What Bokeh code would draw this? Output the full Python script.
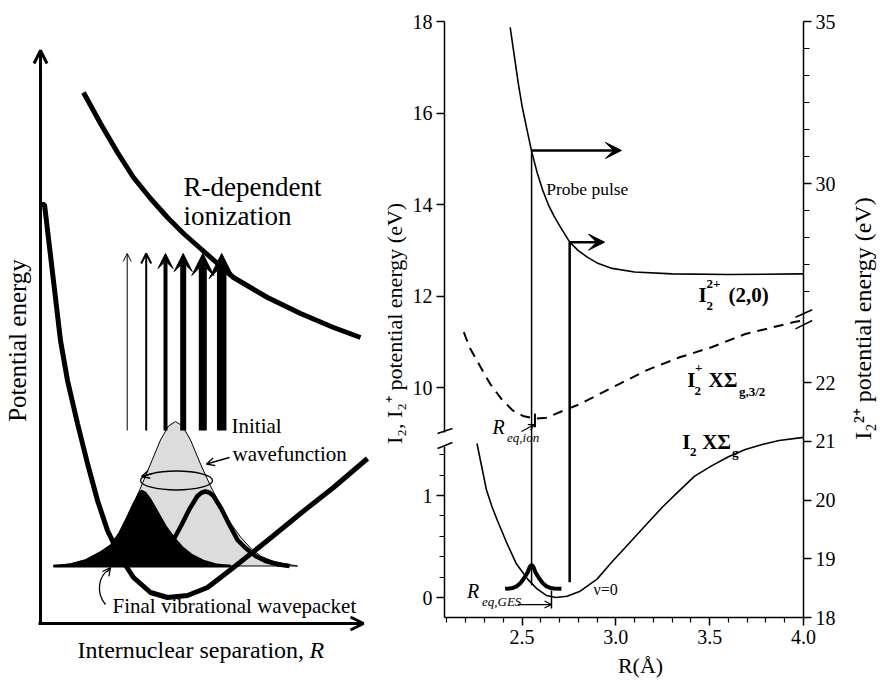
import math
from bokeh.plotting import figure
from bokeh.layouts import row
from bokeh.models import (Range1d, LinearAxis, FixedTicker, PrintfTickFormatter,
                          Arrow, OpenHead, VeeHead)
from bokeh.embed import file_html
from bokeh.resources import INLINE
from bokeh.core.properties import value

FONT = "Liberation Serif"

# ====================== RIGHT PANEL DATA ======================
# I2 X-state (ground) potential: R (Å), energy (eV, left axis)
gs_R = [2.26, 2.29, 2.31, 2.34, 2.37, 2.42, 2.47, 2.53, 2.58, 2.63, 2.68, 2.74, 2.81, 2.90,
        2.98, 3.07, 3.16, 3.25, 3.34, 3.42, 3.51, 3.60, 3.69, 3.78, 3.87, 4.00]
gs_E = [1.51, 1.24, 1.06, 0.89, 0.75, 0.53, 0.33, 0.18, 0.085, 0.02, 0.0, 0.013, 0.062, 0.18,
        0.35, 0.53, 0.71, 0.89, 1.05, 1.19, 1.29, 1.38, 1.45, 1.50, 1.54, 1.57]

# I2+ X 2Σg,3/2 potential (dashed): energy on left axis (eV)
ion_R = [2.19, 2.22, 2.28, 2.33, 2.39, 2.45, 2.51, 2.57, 2.63, 2.70, 2.81, 2.90,
         3.02, 3.16, 3.34, 3.51, 3.69, 3.95, 3.99]
ion_E = [11.21, 10.88, 10.44, 10.08, 9.75, 9.50, 9.37, 9.32, 9.34, 9.46, 9.64, 9.83,
         10.08, 10.37, 10.66, 10.88, 11.17, 11.43, 11.46]

# I2 2+ (2,0) potential: energy on right axis (eV)
dic_R = [2.437, 2.46, 2.48, 2.50, 2.525, 2.551, 2.58, 2.61, 2.64, 2.67, 2.70, 2.754,
         2.80, 2.85, 2.90, 2.98, 3.10, 3.30, 3.60, 4.00]
dic_E = [34.82, 33.9, 33.1, 32.4, 31.7, 31.0, 30.35, 29.8, 29.35, 29.0, 28.7, 28.19,
         27.93, 27.72, 27.55, 27.38, 27.27, 27.21, 27.19, 27.21]

# ground-state vibrational wavepacket (v=0)
wp_R = [2.41, 2.431, 2.451, 2.471, 2.491, 2.511, 2.531, 2.541, 2.551, 2.561, 2.571,
        2.591, 2.611, 2.631, 2.651, 2.671, 2.71]
wp_E = [0.085, 0.088, 0.094, 0.109, 0.140, 0.189, 0.249, 0.301, 0.320, 0.301, 0.249,
        0.189, 0.140, 0.109, 0.094, 0.088, 0.085]

# probe transitions
probe_R = [2.551, 2.754]
probe_E_lo = [0.12, 0.15]        # left axis
probe_E2_hi = [31.02, 28.19]     # right axis
probe_R_end = [3.03, 2.94]

# equilibrium distances
req_ion, req_ion_E = 2.569, [9.13, 9.43]
req_ges, req_ges_E = 2.657, [-0.108, 0.069]
req_ges_arrow_R, req_ges_arrow_E = 2.477, -0.069

# ticks
x_major = [2.5, 3.0, 3.5, 4.0]
x_minor = [2.1, 2.2, 2.3, 2.4, 2.6, 2.7, 2.8, 2.9, 3.1, 3.2, 3.3, 3.4, 3.6, 3.7, 3.8, 3.9]
left_major = [0, 1, 10, 12, 14, 16, 18]
left_minor = [0.2, 0.4, 0.6, 0.8, 1.2, 1.4]
right_major = [18, 19, 20, 21, 22, 30, 35]
right_minor = [34.167, 33.333, 32.5, 31.667, 30.833, 29.167, 28.333, 27.5, 26.667]

# ====================== LEFT PANEL (schematic) DATA ======================
# values in schematic units (x to the right, y measured downward from the top)
ionpot_x = [83, 100, 117, 133, 150, 167, 183, 200, 217, 233, 267, 300, 333, 360]
ionpot_y = [92, 123, 152, 177, 198, 217, 233, 248, 263, 277, 297, 313, 327, 337]
well_x = [41, 44, 52, 60, 67, 77, 87, 97, 107, 120, 133, 150, 167, 187, 207, 233,
          267, 300, 333, 367]
well_y = [204, 204, 272, 340, 380, 423, 463, 500, 530, 557, 577, 592, 597, 595, 587,
          567, 540, 513, 487, 458]
base_y = 565.5
init_x = [53, 70, 85, 100, 110, 120, 130, 140, 150, 160, 168, 175, 182, 190, 200, 210,
          220, 230, 240, 250, 260, 272, 285, 297]
init_h = [0, 2, 6, 14, 21, 35, 55, 78, 102, 126, 140, 144.5, 140, 126, 102, 80, 60,
          43, 29, 18, 10, 5, 2, 0]
fin_x = [53, 70, 85, 100, 110, 118, 126, 133, 138, 141, 145, 150, 158, 166, 174, 182,
         192, 203, 215, 230]
fin_h = [0, 2, 6, 14, 21, 32, 48, 63, 72, 75.5, 73.5, 67, 53, 39, 28, 19, 11, 5.5, 2, 0]
bump_x = [174, 181, 189, 197, 201, 205, 209, 213, 221, 229, 237, 245, 255, 265, 278, 289]
bump_h = [28, 41, 57, 70, 73.3, 74.5, 73.3, 70, 57, 41, 26, 18, 10, 5, 1.5, 0]
ion_arrow_x = [126.7, 145.7, 165.0, 182.7, 202.3, 221.2]
ion_arrow_w = [1.0, 2.0, 4.0, 6.0, 8.0, 9.5]
ion_arrow_head = [8, 10, 15, 18, 22, 25]

H = 680
BASE_SHIFT = 0.33    # em correction for the rendered alphabetic baseline
MID_SHIFT = 0.12     # em correction for rotated, middle-aligned titles


def up(vals):
    return [H - v for v in vals]


def no_align(f):
    try:
        f.frame_align = False
    except Exception:
        pass


# ====================== LEFT FIGURE ======================
L = figure(width=380, height=680, x_range=Range1d(0, 380), y_range=Range1d(0, H),
           x_axis_type=None, y_axis_type=None, output_backend="svg",
           toolbar_location=None, min_border=0)
L.outline_line_color = None
no_align(L)


def ltext(x, y, s, size, style="normal"):
    L.text(x=[x], y=[H - (y - BASE_SHIFT * size)], text=[s], text_font=value(FONT),
           text_font_size=f"{size}px", text_font_style=style, text_align="left",
           text_baseline="alphabetic", text_color="black")


# initial wavefunction (grey)
L.patch(init_x, up([base_y - h for h in init_h]), fill_color="#dcdcdc",
        line_color="black", line_width=1)
# final wavepacket (black hump + outlined hump)
L.patch(fin_x, up([base_y - h for h in fin_h]), fill_color="black", line_color="black",
        line_width=1.5)
L.line(bump_x, up([base_y - h for h in bump_h]), line_color="black", line_width=4.5)
L.line([fin_x[0], fin_x[-1]], up([base_y, base_y]), line_color="black", line_width=3)
# oscillation loop
L.ellipse(x=[176], y=[H - 480], width=[72], height=[19], fill_color=None,
          line_color="black", line_width=1.3)
L.add_layout(Arrow(end=OpenHead(size=8, line_width=1.3), x_start=152, y_start=H - 473,
                   x_end=141, y_end=H - 476, line_width=1.3))
# potential curves
L.line(well_x, up(well_y), line_color="black", line_width=5)
L.line(ionpot_x, up(ionpot_y), line_color="black", line_width=5)
# ionization arrows
for x, w, hs in zip(ion_arrow_x, ion_arrow_w, ion_arrow_head):
    if w < 3:
        head = OpenHead(size=hs, line_width=w, line_color="black")
    else:
        head = VeeHead(size=hs, fill_color="black", line_color="black")
    L.add_layout(Arrow(end=head, x_start=x, y_start=H - 430, x_end=x, y_end=H - 253,
                       line_width=w, line_color="black"))
# axes arrows
L.add_layout(Arrow(end=OpenHead(size=13, line_width=3), x_start=40, y_start=H - 624,
                   x_end=40, y_end=H - 50, line_width=3))
L.add_layout(Arrow(end=OpenHead(size=13, line_width=3), x_start=38, y_start=H - 623,
                   x_end=363, y_end=H - 623, line_width=3))
# small pointer arrows
L.add_layout(Arrow(end=OpenHead(size=8, line_width=1.3), x_start=229, y_start=H - 457,
                   x_end=206, y_end=H - 463.5, line_width=1.3))
L.bezier(x0=[105], y0=[H - 604], x1=[109], y1=[H - 569], cx0=[95], cy0=[H - 592],
         cx1=[98], cy1=[H - 575], line_color="black", line_width=1.3)
L.add_layout(Arrow(end=OpenHead(size=8, line_width=1.3), x_start=107, y_start=H - 571,
                   x_end=110, y_end=H - 567, line_width=1.3))
# texts
ltext(183, 195, "R-dependent", 27)
ltext(183, 224, "ionization", 27)
ltext(231, 432, "Initial", 21)
ltext(232, 460, "wavefunction", 21)
ltext(112, 612, "Final vibrational wavepacket", 21)
ltext(77, 657, "Internuclear separation,", 24)
ltext(309, 657, "R", 24, "italic")
L.text(x=[20 - MID_SHIFT * 25], y=[H - 340], text=["Potential energy"],
       text_font=value(FONT), text_font_size="25px", text_align="center",
       text_baseline="middle", angle=math.pi / 2, text_color="black")

# ====================== RIGHT FIGURE ======================
X0, X1 = 2.087, 4.0          # R range of the axes (Å)
FRAME_L, FRAME_R, FRAME_T, FRAME_B = 444, 803, 21, 617   # axes box on the page
PAGE_X0 = 380                # right panel's left edge on the page


def rx(sx):
    return X0 + (sx - FRAME_L) * (X1 - X0) / (FRAME_R - FRAME_L)


def ry(sy):
    return FRAME_B - sy


def yl(E):
    """broken left axis (eV) -> panel units"""
    return 20 + 102 * E if E < 5 else 230 + 45.75 * (E - 10)


def yr(E2):
    """broken right axis (eV) -> panel units"""
    return 596 - 32.4 * (35 - E2) if E2 > 24.5 else 58.75 * (E2 - 18)


p = figure(width=502, height=680, x_range=Range1d(rx(PAGE_X0), rx(PAGE_X0 + 502)),
           y_range=Range1d(ry(H), ry(0)),
           x_axis_type=None, y_axis_type=None, output_backend="svg",
           toolbar_location=None, min_border=0)
p.outline_line_color = None
no_align(p)

TOPY = ry(FRAME_T)


def style_axis(ax, minor_len=5):
    ax.axis_line_color = "black"
    ax.axis_line_width = 1.5
    ax.major_tick_line_color = "black"
    ax.major_tick_line_width = 1.5
    ax.minor_tick_line_color = "black"
    ax.minor_tick_line_width = 1.2
    ax.major_tick_in = 0
    ax.major_tick_out = 8
    ax.minor_tick_in = 0
    ax.minor_tick_out = minor_len
    ax.major_label_text_font = FONT
    ax.major_label_text_font_size = "20px"
    ax.major_label_text_color = "black"
    ax.major_label_standoff = 4


xaxis = LinearAxis(ticker=FixedTicker(ticks=x_major, minor_ticks=x_minor),
                   formatter=PrintfTickFormatter(format="%.1f"),
                   fixed_location=0, bounds=(X0, X1))
style_axis(xaxis)
p.add_layout(xaxis, "below")

lt = [yl(v) for v in left_major]
laxis = LinearAxis(ticker=FixedTicker(ticks=lt, minor_ticks=[yl(v) for v in left_minor]),
                   major_label_overrides={t: str(v) for t, v in zip(lt, left_major)},
                   fixed_location=X0, bounds=(0, TOPY))
style_axis(laxis)
p.add_layout(laxis, "left")

rt = [yr(v) for v in right_major]
raxis = LinearAxis(ticker=FixedTicker(ticks=rt, minor_ticks=[yr(v) for v in right_minor]),
                   major_label_overrides={t: str(v) for t, v in zip(rt, right_major)},
                   fixed_location=X1, bounds=(0, TOPY))
style_axis(raxis, minor_len=6)
p.add_layout(raxis, "right")

# curves
p.line(gs_R, [yl(e) for e in gs_E], line_color="black", line_width=1.6)
p.line(ion_R, [yl(e) for e in ion_E], line_color="black", line_width=2, line_dash="10 7")
p.line(dic_R, [yr(e) for e in dic_E], line_color="black", line_width=1.6)
p.segment(x0=probe_R, y0=[yl(e) for e in probe_E_lo], x1=probe_R,
          y1=[yr(e) for e in probe_E2_hi], line_color="black", line_width=[1.5, 2.5])
for r0, e2, r1 in zip(probe_R, probe_E2_hi, probe_R_end):
    p.add_layout(Arrow(end=VeeHead(size=16, fill_color="black", line_color="black"),
                       x_start=r0, y_start=yr(e2), x_end=r1, y_end=yr(e2),
                       line_width=2.5, line_color="black"))
p.line(wp_R, [yl(e) for e in wp_E], line_color="black", line_width=4)

# equilibrium markers
p.segment(x0=[req_ion], y0=[yl(req_ion_E[0])], x1=[req_ion], y1=[yl(req_ion_E[1])],
          line_color="black", line_width=2)
p.segment(x0=[req_ges], y0=[yl(req_ges_E[0])], x1=[req_ges], y1=[yl(req_ges_E[1])],
          line_color="black", line_width=1.5)
p.add_layout(Arrow(end=OpenHead(size=7, line_width=1.2), x_start=req_ges_arrow_R,
                   y_start=yl(req_ges_arrow_E), x_end=req_ges, y_end=yl(req_ges_arrow_E),
                   line_width=1.2))
p.add_layout(Arrow(end=OpenHead(size=6, line_width=1.2), x_start=rx(521), y_start=ry(431),
                   x_end=rx(534), y_end=ry(424), line_width=1.2))

# axis breaks
p.add_layout(Arrow(start=None, end=None, x_start=X0, y_start=ry(446), x_end=X0,
                   y_end=ry(432), line_color="white", line_width=5))
for a, b in [((437, 433), (452, 428)), ((437, 448), (452, 442)),
             ((795, 316.7), (811.7, 309.3)), ((795, 328.3), (811.7, 320))]:
    p.add_layout(Arrow(start=None, end=None, x_start=rx(a[0]), y_start=ry(a[1]),
                       x_end=rx(b[0]), y_end=ry(b[1]), line_color="black", line_width=1.5))


def rtext(sx, sy, s, size, style="normal", align="left"):
    p.text(x=[rx(sx)], y=[ry(sy - BASE_SHIFT * size)], text=[s], text_font=value(FONT),
           text_font_size=f"{size}px", text_font_style=style, text_align=align,
           text_baseline="alphabetic", text_color="black")


def rtitle(sx, sy, s, size):
    p.text(x=[rx(sx - MID_SHIFT * size)], y=[ry(sy)], text=[s], text_font=value(FONT),
           text_font_size=f"{size}px", text_align="center", text_baseline="middle",
           angle=math.pi / 2, text_color="black")


rtext(545.7, 194, "Probe pulse", 17.5)
rtext(593, 594, "ν=0", 16)
# I2 2+ (2,0)
rtext(698, 301.7, "I", 21, "bold")
rtext(706, 309.5, "2", 13, "bold")
rtext(706, 287.5, "2+", 13, "bold")
rtext(728, 301.7, "(2,0)", 21, "bold")
# I2+ X Σg,3/2
rtext(686.7, 386.7, "I", 21, "bold")
rtext(694, 394.5, "2", 13, "bold")
rtext(694.5, 372, "+", 13, "bold")
rtext(708, 386.7, "XΣ", 21, "bold")
rtext(738.5, 395, "g,3/2", 13, "bold")
# I2 X Σg
rtext(681.7, 448.3, "I", 21, "bold")
rtext(689.5, 456, "2", 13, "bold")
rtext(701.7, 448.3, "XΣ", 21, "bold")
rtext(731.5, 456.5, "g", 13, "bold")
# R_eq labels
rtext(492, 433, "R", 20, "italic")
rtext(506.5, 441.5, "eq,ion", 13, "italic")
rtext(466.5, 597, "R", 20, "italic")
rtext(481.5, 605, "eq,GES", 13, "italic")

# axis titles
rtext(640, 672, "R(Å)", 22, align="center")
rtitle(397, 323, "I₂, I₂⁺ potential energy (eV)", 22)
rtitle(865, 318, "I₂²⁺ potential energy (eV)", 24)

layout = row(L, p)
open("out.html", "w").write(file_html(layout, INLINE))
